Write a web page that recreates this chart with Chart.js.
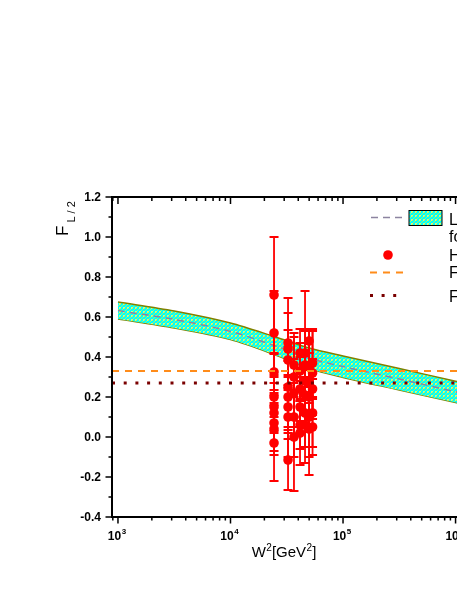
<!DOCTYPE html>
<html>
<head>
<meta charset="utf-8">
<script src="https://cdn.jsdelivr.net/npm/chart.js@4.4.1/dist/chart.umd.min.js"></script>
<style>
html, body { margin: 0; padding: 0; background: #fff; overflow: hidden; }
#wrap { position: relative; width: 560px; height: 591px; }
</style>
</head>
<body>
<div id="wrap"><canvas id="flChart" width="560" height="591"></canvas></div>
<script>
// theory band, W^2 in GeV^2
var bandW2 = [1e3, 3162, 1e4, 25119, 50119, 1e5, 316228, 1e6, 1.4e6];
var bandUpper = [0.675, 0.63, 0.57, 0.50, 0.445, 0.405, 0.342, 0.279, 0.26];
var bandLower = [0.59, 0.545, 0.487, 0.41, 0.342, 0.298, 0.235, 0.172, 0.153];
var bandCenter = [0.632, 0.588, 0.528, 0.455, 0.394, 0.352, 0.29, 0.226, 0.207];

// constant reference lines
var lineW2 = [885, 1.4e6];
var fixedA = 0.33;
var fixedB = 0.27;

// H1 points
var h1W2 = [
  24370, 24370, 24370, 24370, 24370, 24370, 24370, 24370, 24370,
  32460, 32460, 32460, 32460, 32460, 32460, 32460, 32460,
  36650, 36650, 36650, 36650, 36650,
  41480, 41480, 41480, 41480, 41480, 41480,
  45950, 45950, 45950, 45950, 45950, 45950,
  49900, 49900, 49900, 49900, 49900, 49900,
  53600, 53600, 53600, 53600, 53600
];
var h1FL = [
  0.71, 0.52, 0.325, 0.20, 0.15, 0.12, 0.07, 0.04, -0.03,
  0.47, 0.44, 0.385, 0.25, 0.20, 0.15, 0.10, -0.115,
  0.36, 0.30, 0.22, 0.10, 0.00,
  0.42, 0.33, 0.24, 0.15, 0.06, 0.02,
  0.42, 0.36, 0.28, 0.21, 0.12, 0.06,
  0.48, 0.35, 0.27, 0.20, 0.10, 0.04,
  0.37, 0.32, 0.24, 0.12, 0.05
];
var h1Err = [
  0.29, 0.21, 0.09, 0.10, 0.12, 0.10, 0.14, 0.13, 0.19,
  0.225, 0.18, 0.15, 0.20, 0.18, 0.16, 0.20, 0.15,
  0.16, 0.20, 0.17, 0.20, 0.27,
  0.12, 0.14, 0.16, 0.13, 0.12, 0.16,
  0.31, 0.17, 0.15, 0.14, 0.17, 0.19,
  0.06, 0.18, 0.15, 0.16, 0.20, 0.23,
  0.17, 0.21, 0.15, 0.17, 0.14
];

var yTicks = [-0.4, -0.2, 0.0, 0.2, 0.4, 0.6, 0.8, 1.0, 1.2];
var xDecades = [3, 4, 5, 6];

var legendText = ['LO dipole model', 'for F_L / F_2', 'H1 data', 'F_L / F_2 = 0.33', 'F_L / F_2 = 0.27'];

var FONT = 'Arial, "Liberation Sans", sans-serif';

function pts(xs, ys) {
  var out = [];
  for (var i = 0; i < xs.length; i++) out.push({ x: xs[i], y: ys[i] });
  return out;
}

// cyan band with yellow-green speckles
function makePattern() {
  var pc = document.createElement('canvas');
  pc.width = 4; pc.height = 4;
  var p = pc.getContext('2d');
  p.fillStyle = '#00ffff';
  p.fillRect(0, 0, 4, 4);
  p.fillStyle = '#a8f860';
  p.fillRect(0, 0, 1, 1);
  p.fillRect(2, 1, 1, 1);
  p.fillRect(1, 2, 1, 1);
  p.fillStyle = '#d8f878';
  p.fillRect(3, 3, 1, 1);
  p.fillRect(3, 0, 1, 1);
  p.fillRect(0, 3, 1, 1);
  return p.createPattern(pc, 'repeat');
}

var ctx = document.getElementById('flChart').getContext('2d');
var bandFill = makePattern();

var errorBars = {
  id: 'errorBars',
  beforeDatasetDraw: function (chart, args) {
    if (args.index !== 2) return;
    var c = chart.ctx, xs = chart.scales.x, ys = chart.scales.y;
    c.save();
    c.strokeStyle = '#ff0000';
    c.lineWidth = 1.8;
    for (var i = 0; i < h1W2.length; i++) {
      var px = xs.getPixelForValue(h1W2[i]);
      var t = ys.getPixelForValue(h1FL[i] + h1Err[i]);
      var b = ys.getPixelForValue(h1FL[i] - h1Err[i]);
      c.beginPath();
      c.moveTo(px, t); c.lineTo(px, b);
      c.moveTo(px - 4.5, t); c.lineTo(px + 4.5, t);
      c.moveTo(px - 4.5, b); c.lineTo(px + 4.5, b);
      c.stroke();
    }
    c.restore();
  }
};

function supText(c, base, sup, x, y, size, supSize, raise) {
  c.font = size;
  c.fillText(base, x, y);
  var w = c.measureText(base).width;
  c.font = supSize;
  c.fillText(sup, x + w + 0.5, y - raise);
  return w + 0.5 + c.measureText(sup).width;
}

var frame = {
  id: 'frame',
  afterDraw: function (chart) {
    var c = chart.ctx, a = chart.chartArea, xs = chart.scales.x, ys = chart.scales.y;
    c.save();
    c.strokeStyle = '#000';
    c.fillStyle = '#000';

    // ticks
    c.lineWidth = 1.5;
    c.beginPath();
    for (var v = -4; v <= 12; v++) {
      var py = ys.getPixelForValue(v / 10);
      var len = (v % 2 === 0) ? 6.5 : 3.5;
      c.moveTo(a.left - len, py); c.lineTo(a.left, py);
      c.moveTo(a.right, py); c.lineTo(a.right - len, py);
    }
    for (var d = 2; d <= 6; d++) {
      for (var m = 1; m <= 9; m++) {
        var val = m * Math.pow(10, d);
        if (val < xs.min || val > xs.max) continue;
        var px = xs.getPixelForValue(val);
        var major = (m === 1);
        c.moveTo(px, a.bottom); c.lineTo(px, a.bottom + (major ? 6.5 : 3.5));
        c.moveTo(px, a.top); c.lineTo(px, a.top + (major ? 7 : 4));
      }
    }
    c.stroke();

    // frame
    c.lineWidth = 2;
    c.strokeRect(a.left, a.top, a.right - a.left, a.bottom - a.top);

    // y tick labels
    c.font = 'bold 12px ' + FONT;
    c.textAlign = 'right';
    c.textBaseline = 'middle';
    yTicks.forEach(function (t) {
      c.fillText(t.toFixed(1), a.left - 11, ys.getPixelForValue(t) + 0.5);
    });

    // x tick labels 10^n
    c.textAlign = 'left';
    c.textBaseline = 'alphabetic';
    xDecades.forEach(function (d) {
      var px = xs.getPixelForValue(Math.pow(10, d));
      c.font = 'bold 12px ' + FONT;
      var w1 = c.measureText('10').width;
      c.font = 'bold 8px ' + FONT;
      var w2 = c.measureText(String(d)).width;
      var x0 = px - (w1 + w2 + 0.5) / 2 - 1;
      supText(c, '10', String(d), x0, 540, 'bold 12px ' + FONT, 'bold 8px ' + FONT, 6);
    });

    // x title
    var big = '15px ' + FONT, small = '10px ' + FONT;
    c.font = big;
    var tw = c.measureText('W').width + c.measureText('[GeV').width + c.measureText(']').width;
    c.font = small;
    tw += 2 * c.measureText('2').width + 1;
    var tx = 284 - tw / 2, ty = 557;
    tx += supText(c, 'W', '2', tx, ty, big, small, 6);
    tx += supText(c, '[GeV', '2', tx, ty, big, small, 6);
    c.font = big;
    c.fillText(']', tx, ty);

    // y title F_{L/2}
    c.save();
    c.translate(68, 236);
    c.rotate(-Math.PI / 2);
    c.font = '17px ' + FONT;
    c.fillText('F', 0, 0);
    var fw = c.measureText('F').width;
    c.font = '11px ' + FONT;
    c.fillText('L / 2', fw + 3, 7);
    c.restore();

    // legend
    c.font = '16px ' + FONT;
    c.textAlign = 'left';
    c.textBaseline = 'alphabetic';

    c.strokeStyle = '#8c84a0';
    c.lineWidth = 1.5;
    c.setLineDash([7, 5]);
    c.beginPath(); c.moveTo(371, 217.5); c.lineTo(404, 217.5); c.stroke();
    c.setLineDash([]);
    c.fillStyle = bandFill;
    c.fillRect(409, 210.5, 33, 15);
    c.strokeStyle = '#000';
    c.lineWidth = 1;
    c.strokeRect(409, 210.5, 33, 15);
    c.fillStyle = '#000';
    c.fillText(legendText[0], 449, 225);
    c.fillText(legendText[1], 449, 242);

    c.fillStyle = '#ff0000';
    c.beginPath(); c.arc(388, 255, 4.8, 0, Math.PI * 2); c.fill();
    c.fillStyle = '#000';
    c.fillText(legendText[2], 449, 261);

    c.strokeStyle = '#ff8c1a';
    c.lineWidth = 2;
    c.setLineDash([7, 6]);
    c.beginPath(); c.moveTo(370, 272.5); c.lineTo(404, 272.5); c.stroke();
    c.fillText(legendText[3], 449, 278);

    c.strokeStyle = '#7a0000';
    c.lineWidth = 2.8;
    c.setLineDash([3, 8.6]);
    c.beginPath(); c.moveTo(370, 295.5); c.lineTo(404, 295.5); c.stroke();
    c.setLineDash([]);
    c.fillText(legendText[4], 449, 302);

    c.restore();
  }
};

var chart = new Chart(ctx, {
  type: 'scatter',
  data: {
    datasets: [
      {
        label: 'F_L/F_2 = 0.33',
        data: pts(lineW2, [fixedA, fixedA]),
        showLine: true,
        borderColor: '#ff8c1a',
        borderWidth: 2,
        borderDash: [7, 6],
        pointRadius: 0,
        fill: false,
        order: 0
      },
      {
        label: 'F_L/F_2 = 0.27',
        data: pts(lineW2, [fixedB, fixedB]),
        showLine: true,
        borderColor: '#7a0000',
        borderWidth: 2.8,
        borderDash: [3, 8.7],
        pointRadius: 0,
        fill: false,
        order: 1
      },
      {
        label: 'H1 data',
        data: pts(h1W2, h1FL),
        showLine: false,
        pointRadius: 4.8,
        pointBackgroundColor: '#ff0000',
        pointBorderColor: '#ff0000',
        pointBorderWidth: 0,
        order: 2
      },
      {
        label: 'center',
        data: pts(bandW2, bandCenter),
        showLine: true,
        borderColor: '#8c84a0',
        borderWidth: 1.5,
        borderDash: [7, 5],
        tension: 0.3,
        pointRadius: 0,
        fill: false,
        order: 3
      },
      {
        label: 'upper',
        data: pts(bandW2, bandUpper),
        showLine: true,
        borderColor: '#808000',
        borderWidth: 1.5,
        backgroundColor: bandFill,
        tension: 0.3,
        pointRadius: 0,
        fill: '+1',
        order: 4
      },
      {
        label: 'lower',
        data: pts(bandW2, bandLower),
        showLine: true,
        borderColor: '#808000',
        borderWidth: 1.5,
        tension: 0.3,
        pointRadius: 0,
        fill: false,
        order: 5
      }
    ]
  },
  options: {
    responsive: false,
    animation: false,
    events: [],
    layout: { padding: { left: 112, right: 88, top: 197, bottom: 74 } },
    plugins: { legend: { display: false }, tooltip: { enabled: false } },
    scales: {
      x: { type: 'logarithmic', min: 885, max: 1.4e6, display: false },
      y: { type: 'linear', min: -0.4, max: 1.2, display: false }
    }
  },
  plugins: [errorBars, frame]
});
</script>
</body>
</html>
